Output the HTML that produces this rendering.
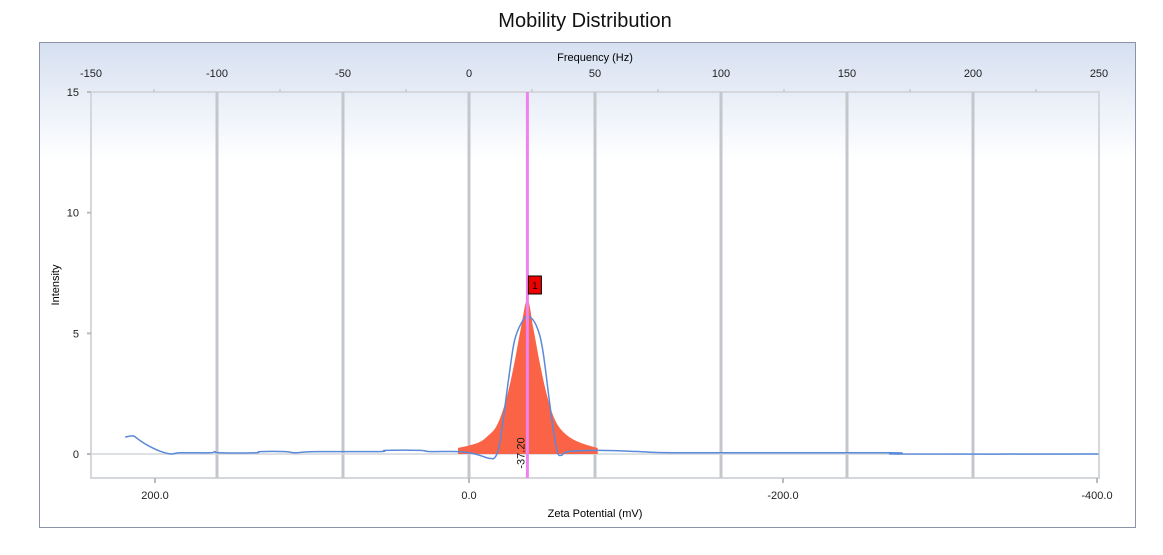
<!DOCTYPE html>
<html><head><meta charset="utf-8"><style>
body{margin:0;background:#fff;width:1163px;height:550px;overflow:hidden;font-family:"Liberation Sans","DejaVu Sans",sans-serif}
</style></head><body>
<svg width="1163" height="550" xmlns="http://www.w3.org/2000/svg">
<defs><linearGradient id="hg" x1="0" y1="0" x2="0" y2="1"><stop offset="0" stop-color="#d6e0f1"/><stop offset="1" stop-color="#ffffff"/></linearGradient></defs>
<text x="585" y="27" text-anchor="middle" font-size="20" fill="#111">Mobility Distribution</text>
<rect x="39.5" y="42.5" width="1096" height="485" fill="#fff" stroke="#8a94a6"/>
<rect x="40" y="43" width="1095" height="117" fill="url(#hg)"/>
<g id="grid"></g>
<g id="series"></g>
<g id="axes" font-size="11" fill="#222"></g>
<text x="595" y="61" text-anchor="middle" font-size="11">Frequency (Hz)</text>
<text x="595" y="517" text-anchor="middle" font-size="11">Zeta Potential (mV)</text>
<text x="59" y="285" text-anchor="middle" font-size="11" transform="rotate(-90 59 285)">Intensity</text>
</svg>
<script>
const freqTicks=[-150,-100,-50,0,50,100,150,200,250];
const zetaTicks=[200,0,-200,-400];
const zetaLabels=["200.0","0.0","-200.0","-400.0"];
const yTicks=[0,5,10,15];
const peakZeta=-37.2;
const peakLabel="-37.20";
const lineZeta=[219,214,210,205,197,190,184,165,162,159,136,133,117,111,98,57,53,31,25,6,-4,-13,-17,-20,-25,-29,-34,-38,-43,-47,-52,-56,-59,-63,-83,-109,-134,-268,-275,-401];
const lineVal=[0.7,0.75,0.58,0.37,0.12,0,0.05,0.05,0.1,0.05,0.05,0.1,0.1,0.05,0.1,0.1,0.15,0.15,0.1,0.1,0,-0.18,-0.1,0.6,3.0,4.7,5.5,5.7,5.3,4.3,1.8,0.15,-0.05,0.1,0.15,0.1,0.05,0.05,0,0];
const areaZeta=[7,0,-7,-12,-17,-21,-25,-29,-33,-37.2,-41,-45,-49,-53,-57,-62,-68,-75,-82];
const areaVal=[0.25,0.35,0.5,0.75,1.1,1.7,2.6,3.8,5.2,6.4,5.2,3.8,2.6,1.7,1.15,0.8,0.55,0.38,0.25];
const NS="http://www.w3.org/2000/svg";
const L=91,R=1099,T=92,B=478;
const fx=f=>L+(f+150)*(R-L)/400;
const zx=z=>469-z*1.57;
const y=v=>454-v*(454-T)/15;
function mk(tag,at,parent){const e=document.createElementNS(NS,tag);for(const k in at)e.setAttribute(k,at[k]);document.getElementById(parent).appendChild(e);return e;}
function smooth(P){let d=`M${P[0][0]} ${P[0][1]}`;for(let i=0;i<P.length-1;i++){const p0=P[i-1]||P[i],p1=P[i],p2=P[i+1],p3=P[i+2]||p2;
d+=`C${p1[0]+(p2[0]-p0[0])/6} ${p1[1]+(p2[1]-p0[1])/6} ${p2[0]-(p3[0]-p1[0])/6} ${p2[1]-(p3[1]-p1[1])/6} ${p2[0]} ${p2[1]}`;}return d;}
let pb=mk('path',{d:`M${L} ${T}H${R}V${B}H${L}Z`,fill:'none',stroke:'#d4d7dc','stroke-width':2},'grid');


freqTicks.forEach((f,i)=>{
  if(i>0&&i<freqTicks.length-1){const g=mk('line',{x1:fx(f),x2:fx(f),y1:T,y2:B,stroke:'#c3c7cc','stroke-width':3},'grid');
  
  }
  if(i<freqTicks.length-1){mk('line',{x1:fx(f+25),x2:fx(f+25),y1:T-3,y2:T,stroke:'#bbb'},'grid');}
  const t=mk('text',{x:fx(f),y:77,'text-anchor':'middle'},'axes');t.textContent=f;
  
  
});
yTicks.forEach(v=>{
  mk('line',{x1:L-4,x2:L,y1:y(v),y2:y(v),stroke:'#bbb','stroke-width':2},'grid');
  const t=mk('text',{x:79,y:y(v)+4,'text-anchor':'end'},'axes');t.textContent=v;
  
  
});
mk('line',{x1:L,x2:R,y1:y(0),y2:y(0),stroke:'#d4d7dc','stroke-width':1.5},'grid');
zetaTicks.forEach((z,i)=>{
  mk('line',{x1:zx(z),x2:zx(z),y1:B,y2:B+5,stroke:'#bbb','stroke-width':2},'grid');
  const t=mk('text',{x:zx(z),y:499,'text-anchor':'middle'},'axes');t.textContent=zetaLabels[i];
  
  
});
const AP=areaZeta.map((z,i)=>[zx(z),y(areaVal[i])]);
let ad=smooth(AP).replace('M',`M${AP[0][0]} ${y(0)}L`)+`L${AP[AP.length-1][0]} ${y(0)}Z`;
const area=mk('path',{d:ad,fill:'#fb6347'},'series');


const LP=lineZeta.map((z,i)=>[zx(z),y(lineVal[i])]);
const line=mk('path',{d:smooth(LP),fill:'none',stroke:'#5b8ad8','stroke-width':1.5},'series');


const px=zx(peakZeta);
const pl=mk('line',{x1:px,x2:px,y1:T,y2:B,stroke:'#ee82ee','stroke-width':3},'series');


const mb=mk('rect',{x:px+1,y:276,width:13,height:18,fill:'#ee0000',stroke:'#000'},'series');


const mt=mk('text',{x:px+7.5,y:289,'text-anchor':'middle','font-size':10,fill:'#000'},'series');mt.textContent='1';


const vl=mk('text',{x:px-3,y:453,'text-anchor':'middle','font-size':11,fill:'#111',transform:`rotate(-90 ${px-3} 453)`},'series');vl.textContent=peakLabel;


</script>
</body></html>
